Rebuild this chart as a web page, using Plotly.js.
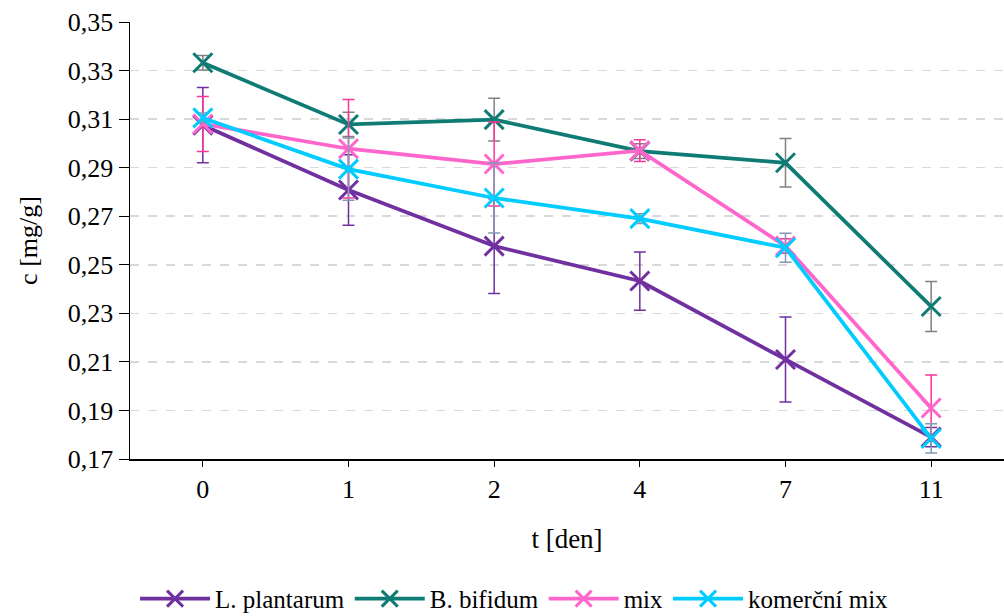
<!DOCTYPE html>
<html>
<head>
<meta charset="utf-8">
<script src="https://cdn.plot.ly/plotly-3.0.1.min.js"></script>
<style>html,body{margin:0;padding:0;background:#fff;}#chart{width:1004px;height:616px;}</style>
</head>
<body>
<div id="chart"></div>
<script>
const days = ["0", "1", "2", "4", "7", "11"];
const seriesNames = ["L. plantarum", "B. bifidum", "mix", "komerční mix"];
const lPlantarum = [0.3075, 0.2808, 0.2577, 0.2433, 0.2110, 0.1790];
const lPlantarumErr = [0.0155, 0.0145, 0.0195, 0.0120, 0.0175, 0.0040];
const bBifidum = [0.3332, 0.3078, 0.3098, 0.2968, 0.2920, 0.2328];
const bBifidumErr = [0.0030, 0.0050, 0.0088, 0.0030, 0.0100, 0.0103];
const mix = [0.3080, 0.2978, 0.2915, 0.2970, 0.2577, 0.1910];
const mixErr = [0.0113, 0.0203, 0.0173, 0.0045, 0.0030, 0.0136];
const komercniMix = [0.3105, 0.2894, 0.2775, 0.2690, 0.2570, 0.1785];
const komercniMixErr = [0.0020, 0.0128, 0.0144, 0.0020, 0.0060, 0.0060];

const lineColors = ["#7030A0", "#0E7C74", "#FF66CC", "#00CCFF"];
const errColors = ["#7030A0", "#808080", "#FF3399", "#8497B0"];
const values = [lPlantarum, bBifidum, mix, komercniMix];
const errs = [lPlantarumErr, bBifidumErr, mixErr, komercniMixErr];

const serif = "Liberation Serif";

const traces = seriesNames.map((name, i) => ({
  type: "scatter",
  mode: "lines+markers",
  name: name,
  x: days,
  y: values[i],
  line: {color: lineColors[i], width: 3.75},
  marker: {symbol: "x-thin-open", size: 19, color: lineColors[i], line: {color: lineColors[i], width: 3}},
  error_y: {type: "data", array: errs[i], visible: true, color: errColors[i], thickness: 1.5, width: 6}
}));

const layout = {
  width: 1004, height: 616,
  margin: {l: 130, r: 0, t: 22, b: 157, autoexpand: false},
  paper_bgcolor: "#ffffff", plot_bgcolor: "#ffffff",
  separators: ", ",
  font: {family: serif, size: 26, color: "#000"},
  showlegend: true,
  legend: {orientation: "h", x: 0.44, xanchor: "center", y: -0.32, yanchor: "middle",
           font: {size: 25, family: serif, color: "#000"}, itemwidth: 70, tracegroupgap: 0},
  xaxis: {
    type: "category", range: [-0.5, 5.5], automargin: false,
    title: {text: "t [den]", font: {size: 27, family: serif}, standoff: 26},
    showline: true, linecolor: "#000", linewidth: 1.5,
    ticks: "outside", ticklen: 6, tickcolor: "#000",
    showgrid: false, zeroline: false,
    tickfont: {size: 26, family: serif}
  },
  yaxis: {
    range: [0.17, 0.35], dtick: 0.02, tick0: 0.17, tickformat: ".2f", automargin: false,
    title: {text: "c [mg/g]", font: {size: 26, family: serif}, standoff: 22},
    showline: true, linecolor: "#000", linewidth: 1.5,
    ticks: "outside", ticklen: 10, tickcolor: "#000",
    showgrid: true, gridcolor: "#D9D9D9", griddash: "dash", gridwidth: 1.5,
    zeroline: false,
    tickfont: {size: 26, family: serif}
  }
};

Plotly.newPlot("chart", traces, layout, {displayModeBar: false, staticPlot: true});
</script>
</body>
</html>
